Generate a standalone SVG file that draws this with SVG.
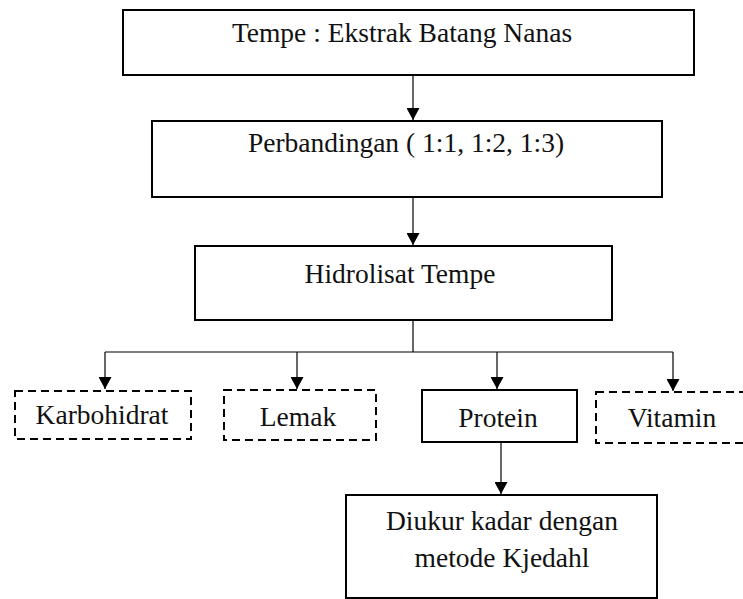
<svg xmlns="http://www.w3.org/2000/svg" width="743" height="599" viewBox="0 0 743 599">
  <style>
    .box { fill: #ffffff; stroke: #000000; stroke-width: 2; }
    .dash { fill: #ffffff; stroke: #000000; stroke-width: 2; stroke-dasharray: 8 5; }
    .lbl { font-family: "Liberation Serif", "Times New Roman", serif; font-size: 27.5px; fill: #111111; text-anchor: middle; }
    .wire { fill: none; stroke: #000000; stroke-width: 1.2; }
    .arrow { fill: none; stroke: #000000; stroke-width: 1.2; marker-end: url(#tip); }
  </style>
  <defs>
    <marker id="tip" markerWidth="13" markerHeight="13" refX="12" refY="6.5" orient="auto" markerUnits="userSpaceOnUse">
      <path d="M0,0 L12,6.5 L0,13 Z" fill="#000000"/>
    </marker>
  </defs>
  <rect width="743" height="599" fill="#ffffff"/>

  <g id="connectors">
    <line class="arrow" x1="413" y1="76" x2="413" y2="120"/>
    <line class="arrow" x1="413" y1="198" x2="413" y2="245"/>
    <line class="wire" x1="413" y1="321" x2="413" y2="352"/>
    <line class="wire" x1="105" y1="352" x2="673" y2="352"/>
    <line class="arrow" x1="105" y1="352" x2="105" y2="389"/>
    <line class="arrow" x1="297" y1="352" x2="297" y2="389"/>
    <line class="arrow" x1="497" y1="352" x2="497" y2="389"/>
    <line class="arrow" x1="673" y1="352" x2="673" y2="391"/>
    <line class="arrow" x1="501" y1="443" x2="501" y2="494"/>
  </g>

  <g id="tempe-ekstrak">
    <rect class="box" x="123" y="10" width="571" height="65"/>
    <text class="lbl" x="402" y="42">Tempe : Ekstrak Batang Nanas</text>
  </g>

  <g id="perbandingan">
    <rect class="box" x="152" y="121" width="510" height="76"/>
    <text class="lbl" x="406" y="152">Perbandingan ( 1:1, 1:2, 1:3)</text>
  </g>

  <g id="hidrolisat">
    <rect class="box" x="195" y="246" width="417" height="74"/>
    <text class="lbl" x="400" y="283">Hidrolisat Tempe</text>
  </g>

  <g id="karbohidrat">
    <rect class="dash" x="15" y="391" width="176" height="48"/>
    <text class="lbl" x="102" y="424">Karbohidrat</text>
  </g>

  <g id="lemak">
    <rect class="dash" x="224" y="390" width="152" height="50"/>
    <text class="lbl" x="298" y="426">Lemak</text>
  </g>

  <g id="protein">
    <rect class="box" x="422" y="390" width="155" height="52"/>
    <text class="lbl" x="498" y="427">Protein</text>
  </g>

  <g id="vitamin">
    <rect class="dash" x="596" y="392" width="152" height="51"/>
    <text class="lbl" x="672" y="427">Vitamin</text>
  </g>

  <g id="kjedahl">
    <rect class="box" x="346" y="495" width="311" height="103"/>
    <text class="lbl" x="502" y="530">Diukur kadar dengan</text>
    <text class="lbl" x="502" y="567">metode Kjedahl</text>
  </g>
</svg>
